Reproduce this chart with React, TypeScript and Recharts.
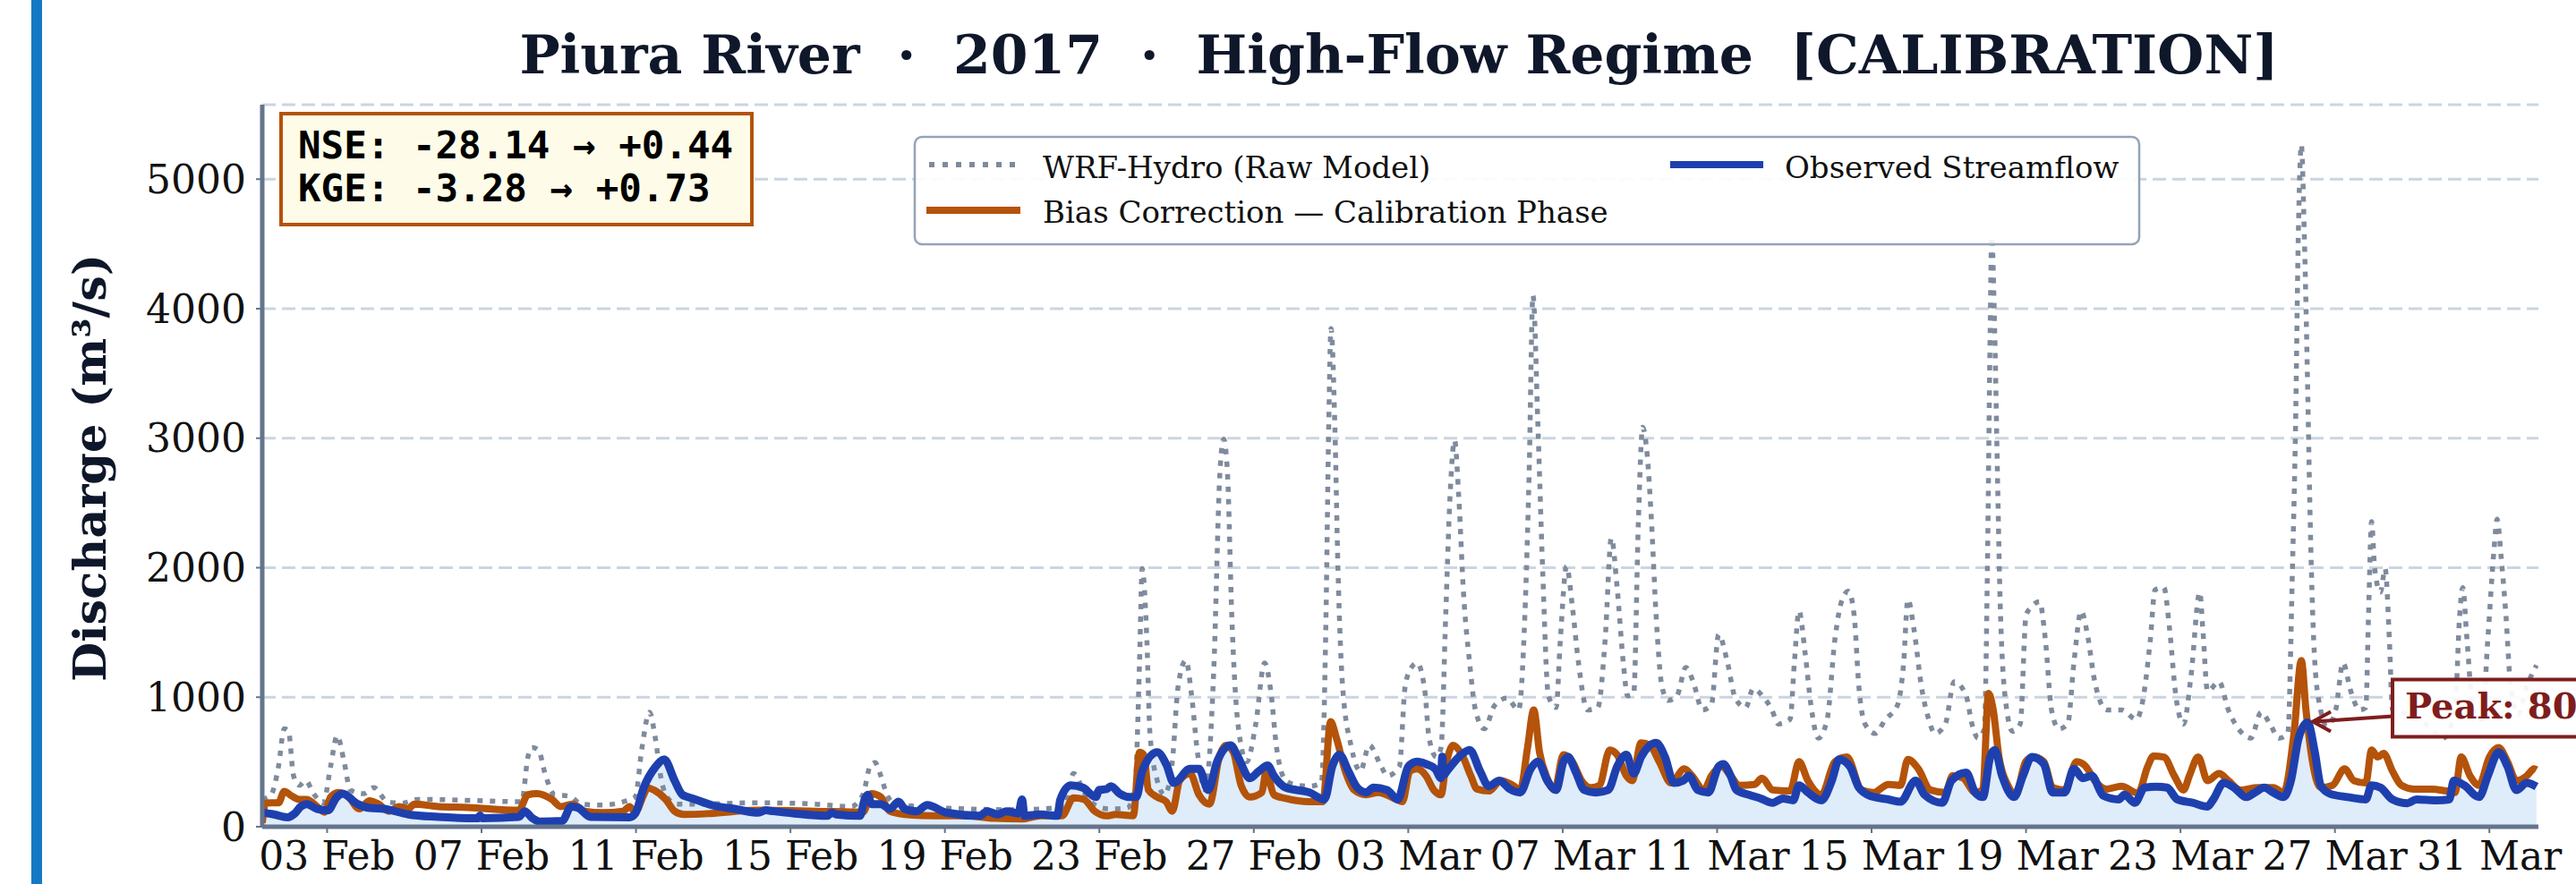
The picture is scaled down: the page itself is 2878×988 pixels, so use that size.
import React from 'react';
import { ComposedChart, Line, Area, XAxis, YAxis, CartesianGrid, ReferenceDot } from 'recharts';

// time axis: days since 01 Feb 2017 00:00
const rawDays = [
  0.32, 0.55, 0.74, 0.89, 1.0, 1.13, 1.28, 1.44, 1.67, 1.9, 2.09, 2.26, 2.44, 2.6, 2.94, 3.21, 3.56, 3.95, 4.34, 5.65,
  7.04, 7.2, 7.31, 7.47, 7.66, 7.89, 8.28, 8.59, 9.13, 9.67, 9.98, 10.15, 10.35, 10.5, 10.66, 10.85, 11.08, 11.55, 13.1, 14.64,
  15.57, 15.88, 16.07, 16.19, 16.34, 16.5, 16.73, 17.35, 18.5, 19.98, 20.48, 21.1, 21.33, 21.64, 21.95, 22.26, 22.72, 22.92, 23.04, 23.11,
  23.23, 23.31, 23.5, 23.69, 23.89, 24.04, 24.24, 24.39, 24.54, 24.74, 24.97, 25.12, 25.22, 25.32, 25.43, 25.59, 25.82, 26.05, 26.28, 26.44,
  26.59, 26.83, 27.14, 27.44, 27.75, 27.87, 27.94, 28.0, 28.1, 28.18, 28.3, 28.53, 28.76, 28.99, 29.3, 29.46, 29.77, 29.92, 30.08, 30.23,
  30.43, 30.54, 30.73, 30.85, 30.97, 31.08, 31.2, 31.31, 31.43, 31.59, 31.74, 31.97, 32.24, 32.55, 32.86, 33.02, 33.13, 33.23, 33.36, 33.48,
  33.63, 33.83, 33.94, 34.1, 34.25, 34.41, 34.64, 34.91, 35.1, 35.26, 35.41, 35.57, 35.68, 35.84, 35.96, 36.07, 36.19, 36.3, 36.42, 36.57,
  36.73, 36.96, 37.19, 37.38, 37.62, 37.85, 38.04, 38.27, 38.47, 38.74, 38.93, 39.2, 39.42, 39.58, 39.89, 40.0, 40.12, 40.28, 40.43, 40.62,
  40.85, 41.05, 41.24, 41.4, 41.55, 41.67, 41.83, 42.09, 42.36, 42.67, 42.83, 42.94, 43.1, 43.29, 43.48, 43.64, 43.91, 44.14, 44.45, 44.6,
  44.76, 44.92, 45.0, 45.07, 45.11, 45.19, 45.26, 45.34, 45.5, 45.65, 45.85, 46.0, 46.15, 46.35, 46.5, 46.66, 46.85, 47.08, 47.24, 47.43,
  47.59, 47.78, 48.09, 48.47, 48.86, 49.0, 49.22, 49.34, 49.57, 49.72, 49.88, 50.08, 50.27, 50.5, 50.58, 50.7, 51.0, 51.24, 51.55, 51.82,
  52.09, 52.32, 52.55, 52.78, 52.9, 52.98, 53.05, 53.13, 53.21, 53.29, 53.36, 53.48, 53.63, 53.79, 54.02, 54.21, 54.41, 54.64, 54.8, 54.87,
  54.95, 55.03, 55.18, 55.3, 55.41, 55.49, 55.88, 56.34, 56.8, 57.11, 57.23, 57.31, 57.42, 57.58, 57.81, 57.96, 58.12, 58.2, 58.31, 58.43,
  58.55, 58.74, 58.97, 59.22,
];
const rawFlow = [
  211, 247, 465, 756, 738, 393, 320, 356, 247, 182, 465, 702, 502, 284, 255, 302, 193, 182, 211, 204,
  193, 538, 611, 593, 393, 247, 236, 175, 167, 193, 229, 600, 884, 684, 356, 211, 175, 175, 185, 175,
  156, 250, 473, 495, 393, 247, 175, 156, 138, 131, 138, 156, 411, 247, 156, 138, 145, 284, 1265, 1993,
  1447, 720, 356, 247, 502, 1084, 1284, 1011, 575, 284, 1265, 2720, 2993, 2720, 1629, 793, 502, 793, 1265, 1047,
  611, 356, 320, 313, 338, 1629, 3084, 3847, 3084, 1993, 1084, 611, 429, 629, 465, 393, 465, 1084, 1229, 1265,
  1047, 684, 538, 611, 1629, 2538, 2982, 2538, 1811, 1265, 902, 756, 938, 993, 902, 1629, 2720, 4102, 3084, 1993,
  1011, 920, 1447, 2011, 1702, 1265, 902, 920, 1447, 2229, 1847, 1265, 1011, 1029, 2356, 3084, 2866, 2356, 1629, 1084,
  975, 1011, 1229, 1120, 902, 938, 1484, 1265, 993, 920, 1065, 1000, 902, 793, 829, 1265, 1665, 1338, 938, 684,
  829, 1447, 1756, 1818, 1629, 1084, 793, 720, 829, 938, 1265, 1756, 1520, 1084, 829, 720, 793, 1120, 1011, 793,
  684, 756, 1993, 3811, 4556, 3811, 2720, 1629, 902, 738, 793, 1629, 1702, 1738, 1447, 902, 756, 793, 1265, 1665,
  1484, 1120, 902, 902, 829, 938, 1447, 1829, 1847, 1520, 1011, 793, 1156, 1811, 1520, 1047, 1120, 902, 738, 684,
  884, 793, 684, 720, 1993, 3084, 4538, 5265, 4538, 3447, 2356, 1265, 902, 775, 902, 1265, 1047, 902, 920, 1629,
  2356, 1993, 1811, 1993, 1447, 902, 866, 793, 684, 902, 1629, 1847, 1447, 902, 829, 1447, 2138, 2375, 2065, 1629,
  1084, 866, 1084, 1247,
];

const biasDays = [
  0.32, 0.4, 0.55, 0.74, 0.89, 1.09, 1.28, 1.47, 1.74, 1.94, 2.09, 2.29, 2.56, 2.83, 3.1, 3.33, 3.6, 3.87, 4.1, 4.26,
  4.88, 5.65, 6.96, 7.2, 7.43, 7.82, 8.05, 8.36, 8.67, 9.13, 9.67, 9.83, 9.98, 10.2, 10.3, 10.46, 10.77, 11.0, 11.24, 11.93,
  13.1, 14.64, 15.88, 16.1, 16.34, 16.57, 16.96, 17.7, 18.5, 19.28, 19.98, 20.48, 21.03, 21.33, 21.6, 21.88, 22.19, 22.42, 22.88, 23.04,
  23.15, 23.27, 23.5, 23.73, 23.89, 24.08, 24.35, 24.58, 24.85, 25.12, 25.28, 25.47, 25.67, 25.9, 26.21, 26.32, 26.52, 26.83, 27.44, 27.79,
  27.99, 28.14, 28.37, 28.6, 28.91, 29.22, 29.69, 29.85, 30.04, 30.23, 30.46, 30.66, 30.85, 30.97, 31.16, 31.39, 31.62, 31.78, 32.09, 32.4,
  32.71, 32.9, 33.09, 33.25, 33.4, 33.6, 33.79, 34.02, 34.25, 34.49, 34.72, 34.95, 35.22, 35.41, 35.65, 35.8, 36.03, 36.26, 36.5, 36.81,
  37.15, 37.35, 37.66, 37.85, 38.12, 38.35, 38.58, 38.97, 39.16, 39.44, 39.89, 40.12, 40.35, 40.7, 41.05, 41.36, 41.74, 42.05, 42.44, 42.75,
  42.94, 43.21, 43.52, 43.91, 44.1, 44.37, 44.68, 44.88, 45.03, 45.15, 45.3, 45.53, 45.73, 45.99, 46.19, 46.46, 46.69, 47.0, 47.31, 47.55,
  47.78, 48.09, 48.47, 48.9, 49.15, 49.3, 49.57, 49.84, 50.08, 50.23, 50.46, 50.7, 51.0, 51.24, 51.55, 52.01, 52.4, 52.67, 52.94, 53.13,
  53.25, 53.4, 53.63, 53.94, 54.25, 54.49, 54.8, 54.95, 55.11, 55.26, 55.49, 55.72, 56.03, 56.5, 56.88, 57.11, 57.27, 57.5, 57.73, 58.0,
  58.24, 58.47, 58.7, 58.97, 59.16, 59.22,
];
const biasFlow = [
  30, 180, 185, 185, 273, 236, 211, 211, 156, 113, 229, 265, 229, 138, 200, 175, 120, 156, 138, 175,
  156, 149, 127, 247, 255, 211, 156, 175, 120, 109, 120, 156, 113, 247, 300, 284, 211, 120, 95, 102,
  127, 120, 113, 255, 229, 120, 95, 84, 84, 65, 60, 84, 84, 222, 211, 120, 84, 95, 84, 575,
  556, 284, 229, 193, 120, 356, 411, 247, 175, 556, 629, 575, 320, 229, 265, 429, 247, 218, 193, 193,
  811, 684, 429, 284, 247, 265, 211, 193, 429, 447, 393, 284, 247, 465, 629, 556, 393, 291, 276, 356,
  320, 284, 611, 902, 575, 375, 284, 556, 502, 356, 302, 320, 593, 556, 393, 356, 647, 629, 502, 338,
  447, 393, 284, 393, 465, 393, 320, 327, 375, 284, 276, 502, 356, 247, 502, 538, 284, 265, 327, 320,
  520, 447, 284, 265, 393, 375, 265, 284, 1029, 902, 538, 320, 247, 502, 538, 502, 302, 284, 502, 465,
  356, 291, 313, 260, 465, 545, 538, 393, 284, 393, 538, 356, 411, 356, 284, 302, 302, 265, 720, 1284,
  902, 538, 302, 320, 447, 356, 338, 593, 538, 567, 429, 320, 291, 291, 276, 265, 538, 393, 320, 538,
  611, 502, 356, 393, 447, 440,
];

const obsDays = [
  0.32, 0.62, 0.97, 1.16, 1.32, 1.47, 1.74, 2.02, 2.25, 2.4, 2.79, 3.1, 3.48, 4.1, 4.88, 5.9, 5.96, 6.02, 6.96, 7.12,
  7.3, 7.51, 8.09, 8.32, 8.51, 8.82, 9.83, 9.98, 10.2, 10.5, 10.73, 11.0, 11.2, 11.47, 12.0, 12.55, 13.17, 13.36, 13.55, 14.1,
  14.95, 15.07, 15.18, 15.8, 15.92, 16.0, 16.1, 16.34, 16.57, 16.8, 16.96, 17.27, 17.54, 18.04, 18.9, 19.09, 19.36, 19.6, 19.9, 20.0,
  20.06, 20.48, 20.91, 20.99, 21.26, 21.57, 21.91, 21.99, 22.19, 22.3, 22.53, 22.8, 22.96, 23.11, 23.5, 23.73, 23.93, 24.35, 24.58, 24.82,
  25.05, 25.4, 25.59, 25.9, 26.13, 26.36, 26.52, 26.83, 27.44, 27.83, 28.03, 28.22, 28.45, 28.68, 28.91, 29.1, 29.45, 29.73, 30.0, 30.23,
  30.46, 30.7, 30.85, 30.88, 30.92, 31.0, 31.31, 31.59, 31.86, 32.09, 32.36, 32.63, 32.9, 33.17, 33.36, 33.6, 33.83, 34.02, 34.14, 34.33,
  34.56, 34.87, 35.18, 35.41, 35.65, 35.84, 36.03, 36.42, 36.65, 36.88, 37.12, 37.27, 37.5, 37.77, 38.04, 38.16, 38.35, 38.5, 38.82, 39.13,
  39.44, 39.7, 39.97, 40.12, 40.35, 40.7, 40.97, 41.16, 41.44, 41.67, 41.98, 42.44, 42.75, 43.14, 43.37, 43.83, 44.07, 44.45, 44.68, 44.88,
  45.07, 45.19, 45.38, 45.69, 45.92, 46.15, 46.46, 46.69, 47.0, 47.24, 47.47, 47.7, 48.0, 48.4, 48.55, 48.82, 49.07, 49.38, 49.65, 49.92,
  50.31, 50.7, 50.85, 51.12, 51.39, 51.7, 51.93, 52.17, 52.4, 52.67, 52.86, 53.06, 53.29, 53.48, 53.63, 53.87, 54.33, 54.8, 54.95, 55.18,
  55.49, 55.88, 56.11, 56.65, 56.96, 57.08, 57.35, 57.73, 57.96, 58.24, 58.47, 58.7, 58.97, 59.16, 59.22,
];
const obsFlow = [
  109, 95, 73, 102, 156, 175, 138, 127, 229, 255, 175, 145, 138, 95, 76, 65, 87, 66, 76, 120,
  70, 40, 45, 156, 145, 76, 73, 102, 302, 460, 520, 356, 247, 218, 164, 138, 109, 127, 120, 102,
  84, 109, 95, 84, 211, 247, 175, 175, 138, 193, 138, 120, 167, 109, 84, 120, 95, 120, 102, 211,
  84, 95, 84, 211, 320, 302, 229, 284, 291, 313, 255, 229, 229, 429, 575, 484, 338, 447, 447, 284,
  502, 629, 538, 375, 429, 473, 393, 302, 265, 211, 465, 556, 429, 302, 265, 302, 284, 211, 465, 502,
  484, 447, 375, 540, 400, 429, 538, 593, 429, 313, 356, 291, 265, 447, 502, 356, 284, 502, 538, 429,
  284, 265, 284, 465, 556, 411, 538, 647, 538, 338, 356, 393, 284, 265, 465, 484, 393, 284, 247, 218,
  185, 218, 204, 320, 265, 204, 356, 520, 465, 302, 236, 211, 193, 356, 247, 185, 356, 418, 265, 229,
  538, 593, 393, 229, 393, 538, 484, 265, 265, 447, 375, 393, 240, 211, 247, 185, 302, 309, 302, 211,
  185, 156, 211, 338, 302, 229, 265, 302, 265, 229, 356, 684, 805, 575, 320, 255, 229, 211, 320, 302,
  211, 182, 211, 204, 211, 356, 320, 229, 393, 575, 465, 284, 338, 320, 310,
];

const xTickDays = [2, 6, 10, 14, 18, 22, 26, 30, 34, 38, 42, 46, 50, 54, 58];
const xTickLabels = [
  '03 Feb', '07 Feb', '11 Feb', '15 Feb', '19 Feb', '23 Feb', '27 Feb', '03 Mar',
  '07 Mar', '11 Mar', '15 Mar', '19 Mar', '23 Mar', '27 Mar', '31 Mar',
];
const yTicks = [0, 1000, 2000, 3000, 4000, 5000];

const peakDay = 53.29;
const peakFlow = 805;

const toPoints = (days: number[], vals: number[]) => days.map((t, i) => ({ t, v: vals[i] }));
const rawData = toPoints(rawDays, rawFlow);
const biasData = toPoints(biasDays, biasFlow);
const obsData = toPoints(obsDays, obsFlow);

const SERIF = "'DejaVu Serif', serif";
const MONO = "'DejaVu Sans Mono', monospace";
const AXIS = '#64748b';
const RAW = '#7f8b9d';
const BIAS = '#b45309';
const OBS = '#1e40af';
const PEAK = '#7f1d1d';

const tickFmt = (d: number) => xTickLabels[xTickDays.indexOf(d)] ?? '';

function PeakCallout(props: any) {
  const { cx, cy } = props;
  if (cx == null || cy == null) return null;
  const tipX = cx + 6;
  const tipY = cy - 1;
  return (
    <g>
      <line x1={cx + 95} y1={cy - 7} x2={tipX + 2} y2={tipY} stroke={PEAK} strokeWidth={4} />
      <polyline
        points={`${tipX + 20},${tipY - 11} ${tipX},${tipY} ${tipX + 20},${tipY + 11}`}
        fill="none"
        stroke={PEAK}
        strokeWidth={4}
      />
      <rect x={cx + 95} y={cy - 48} width={420} height={64} fill="#fff" fillOpacity={0.92} stroke={PEAK} strokeWidth={4} />
      <text x={cx + 109} y={cy - 4} fontFamily={SERIF} fontWeight="bold" fontSize={40} fill={PEAK}>
        Peak: 805 m³/s
      </text>
    </g>
  );
}

export default function App() {
  return (
    <div style={{ position: 'relative', width: 2878, height: 988, background: '#fff', overflow: 'hidden' }}>
      <style>{'body{margin:0;overflow:hidden;}'}</style>
      <ComposedChart width={2878} height={988} margin={{ top: 117, right: 42, bottom: 0, left: 133 }}>
        <CartesianGrid vertical={false} stroke="#cbd5e1" strokeWidth={3} strokeDasharray="15 7" />
        <XAxis
          dataKey="t"
          type="number"
          domain={[0.32, 59.27]}
          ticks={xTickDays}
          tickFormatter={tickFmt}
          allowDataOverflow
          height={64}
          axisLine={{ stroke: AXIS, strokeWidth: 5 }}
          tickLine={{ stroke: AXIS, strokeWidth: 2 }}
          tickSize={7}
          tickMargin={10}
          tick={{ fontFamily: SERIF, fontSize: 44, fill: '#111' }}
          interval={0}
        />
        <YAxis
          type="number"
          domain={[0, 5575]}
          ticks={yTicks}
          allowDataOverflow
          width={160}
          axisLine={{ stroke: AXIS, strokeWidth: 5 }}
          tickLine={{ stroke: AXIS, strokeWidth: 2 }}
          tickSize={7}
          tickMargin={11}
          tick={{ fontFamily: SERIF, fontSize: 44, fill: '#111' }}
          interval={0}
        />
        <Area
          data={obsData}
          dataKey="v"
          type="monotone"
          stroke="none"
          fill="#dfecfa"
          fillOpacity={1}
          isAnimationActive={false}
        />
        <Line
          data={rawData}
          dataKey="v"
          type="monotone"
          stroke={RAW}
          strokeWidth={5.5}
          strokeDasharray="6 8"
          dot={false}
          isAnimationActive={false}
        />
        <Line
          data={biasData}
          dataKey="v"
          type="monotone"
          stroke={BIAS}
          strokeWidth={8}
          dot={false}
          isAnimationActive={false}
        />
        <Line
          data={obsData}
          dataKey="v"
          type="monotone"
          stroke={OBS}
          strokeWidth={9}
          dot={false}
          isAnimationActive={false}
        />
        <ReferenceDot x={peakDay} y={peakFlow} r={0} shape={PeakCallout} />
      </ComposedChart>

      <svg width={2878} height={988} style={{ position: 'absolute', left: 0, top: 0, pointerEvents: 'none' }}>
        <rect x={35} y={0} width={12} height={988} fill="#1479c5" />
        <text
          x={1563}
          y={82}
          textAnchor="middle"
          fontFamily={SERIF}
          fontWeight="bold"
          fontSize={60}
          fill="#0f172a"
          xmlSpace="preserve"
        >
          {'Piura River  ·  2017  ·  High-Flow Regime  [CALIBRATION]'}
        </text>
        <text
          transform="translate(118,523) rotate(-90)"
          textAnchor="middle"
          fontFamily={SERIF}
          fontWeight="bold"
          fontSize={51}
          fill="#0f172a"
        >
          Discharge (m³/s)
        </text>

        <rect x={314} y={127} width={526} height={124} fill="#fefce8" stroke={BIAS} strokeWidth={4} />
        <text x={333} y={177} fontFamily={MONO} fontWeight="bold" fontSize={42.5} fill="#000" xmlSpace="preserve">
          {'NSE: -28.14 → +0.44'}
        </text>
        <text x={333} y={225} fontFamily={MONO} fontWeight="bold" fontSize={42.5} fill="#000" xmlSpace="preserve">
          {'KGE: -3.28 → +0.73'}
        </text>

        <rect x={1022} y={153} width={1368} height={120} rx={8} fill="#fff" fillOpacity={0.9} stroke="#94a3b8" strokeWidth={2.5} />
        <line x1={1038} y1={184} x2={1136} y2={184} stroke={RAW} strokeWidth={6} strokeDasharray="6 9" />
        <text x={1165} y={199} fontFamily={SERIF} fontSize={34} fill="#111">WRF-Hydro (Raw Model)</text>
        <line x1={1035} y1={235} x2={1140} y2={235} stroke={BIAS} strokeWidth={8} />
        <text x={1165} y={249} fontFamily={SERIF} fontSize={34} fill="#111">Bias Correction — Calibration Phase</text>
        <line x1={1866} y1={184} x2={1970} y2={184} stroke={OBS} strokeWidth={8} />
        <text x={1994} y={199} fontFamily={SERIF} fontSize={34} fill="#111">Observed Streamflow</text>
      </svg>
    </div>
  );
}
